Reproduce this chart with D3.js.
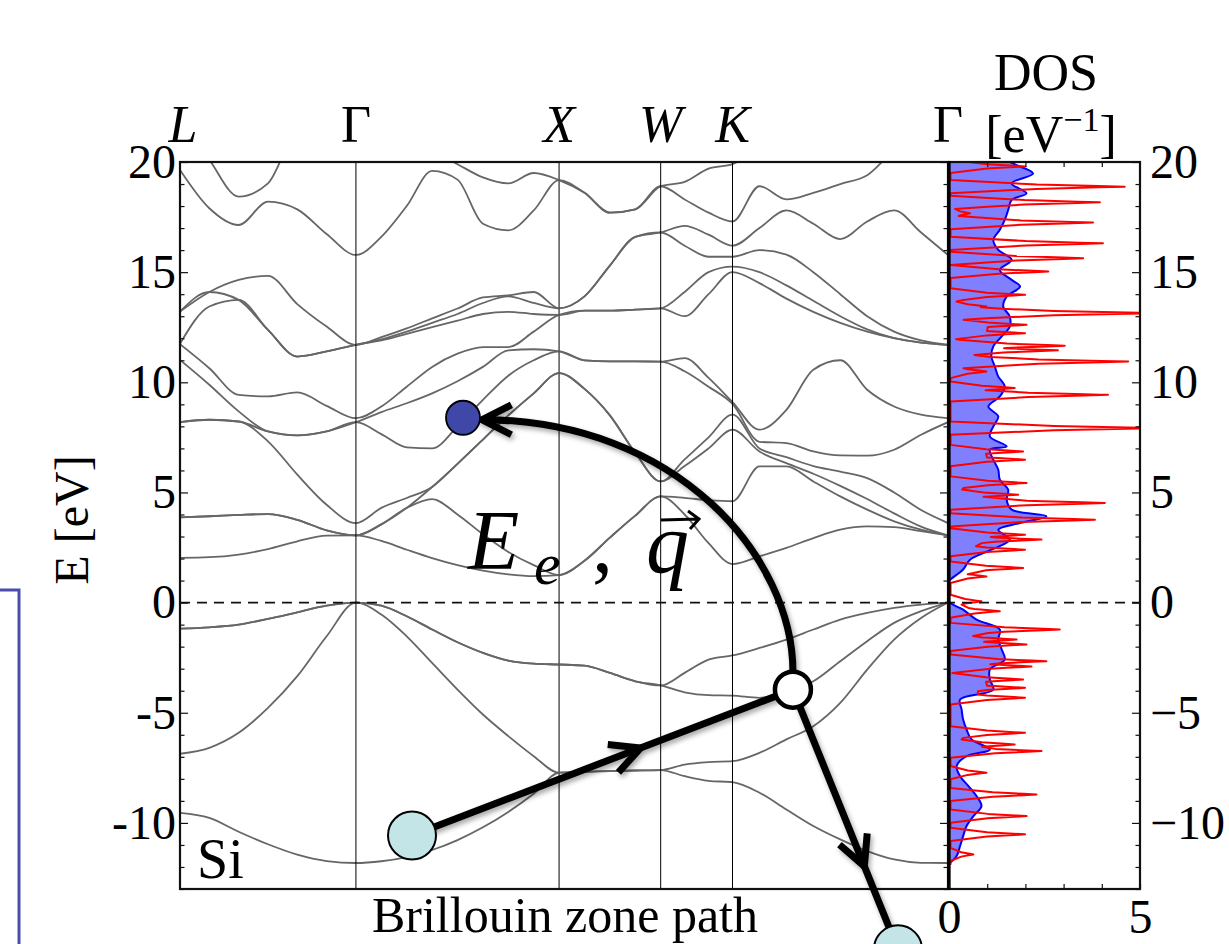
<!DOCTYPE html>
<html>
<head>
<meta charset="UTF-8">
<title>Si band structure and DOS</title>
<script src="https://cdnjs.cloudflare.com/ajax/libs/d3/7.8.5/d3.min.js"></script>
<style>
  body { margin: 0; background: #fff; }
  svg text { font-family: "Liberation Serif", "Times New Roman", serif; }
</style>
</head>
<body>
<div id="chart"></div>
<script>
// ---- path through the Brillouin zone (units of 2pi/a) ----
var kLabels = ["L", "Γ", "X", "W", "K", "Γ"];
var kNodes = [0, 0.8660, 1.8660, 2.3660, 2.7196, 3.7803];

// band energies (eV) sampled evenly along each segment, one row per line
var bandsLG = [
  [-9.54, -9.77, -10.40, -10.97, -11.44, -11.73, -11.82],
  [-6.86, -6.59, -5.91, -4.78, -3.34, -1.53, 0.00],
  [-1.18, -1.12, -1.00, -0.74, -0.44, -0.14, 0.00],
  [-1.18, -1.12, -1.00, -0.74, -0.44, -0.14, 0.00],
  [2.03, 2.06, 2.18, 2.43, 2.78, 3.04, 3.05],
  [3.87, 3.92, 3.98, 4.02, 3.76, 3.28, 3.05],
  [3.87, 3.92, 3.98, 4.02, 3.76, 3.28, 3.05],
  [11.02, 9.89, 8.68, 7.32, 5.81, 4.44, 3.61],
  [8.19, 8.30, 8.22, 7.77, 7.59, 7.77, 8.19],
  [8.19, 8.30, 8.22, 7.77, 7.59, 7.77, 8.19],
  [11.75, 10.64, 9.43, 9.36, 9.54, 8.93, 8.37],
  [13.21, 14.10, 13.74, 12.38, 11.17, 11.40, 11.70],
  [13.21, 14.10, 13.74, 12.38, 11.17, 11.40, 11.70],
  [11.73, 13.44, 14.65, 14.83, 13.55, 12.53, 11.70],
  [19.64, 17.90, 17.14, 18.20, 17.85, 16.73, 15.78],
  [22.00, 20.10, 18.43, 19.03, 21.50, 22.00, 22.00]
];
var bandsGX = [
  [-11.82, -11.74, -11.55, -11.23, -10.78, -10.20, -9.50, -8.68, -7.72],
  [0.00, -0.54, -1.53, -2.74, -3.95, -5.08, -6.06, -6.97, -7.72],
  [0.00, -0.14, -0.62, -1.22, -1.80, -2.28, -2.63, -2.77, -2.81],
  [0.00, -0.14, -0.62, -1.22, -1.80, -2.28, -2.63, -2.77, -2.81],
  [3.05, 2.80, 2.40, 2.02, 1.70, 1.45, 1.28, 1.20, 1.25],
  [3.61, 4.30, 4.75, 4.70, 4.00, 3.10, 2.30, 1.70, 1.25],
  [3.05, 3.55, 4.30, 5.25, 6.30, 7.40, 8.50, 9.50, 10.42],
  [3.05, 3.55, 4.30, 5.25, 6.30, 7.40, 8.50, 9.50, 10.42],
  [8.19, 7.65, 7.05, 7.00, 8.00, 9.20, 10.30, 11.00, 11.40],
  [8.19, 8.90, 9.80, 10.70, 11.30, 11.60, 11.60, 11.50, 11.40],
  [8.37, 8.65, 9.05, 9.50, 10.05, 10.70, 11.45, 12.30, 13.06],
  [11.70, 11.90, 12.20, 12.50, 12.80, 13.10, 13.20, 13.10, 13.06],
  [11.70, 12.05, 12.45, 12.90, 13.35, 13.85, 13.90, 13.60, 13.36],
  [11.70, 11.95, 12.30, 12.70, 13.10, 13.60, 13.95, 14.10, 13.36],
  [15.78, 16.60, 18.00, 19.60, 19.20, 17.20, 16.90, 17.80, 19.18],
  [22.00, 22.00, 21.00, 20.50, 19.90, 19.30, 19.03, 19.50, 19.18]
];
var bandsXW = [
  [-7.72, -7.68, -7.65, -7.62, -7.60],
  [-7.72, -7.68, -7.65, -7.62, -7.60],
  [-2.81, -2.86, -3.19, -3.57, -3.76],
  [-2.81, -2.86, -3.19, -3.57, -3.76],
  [1.25, 1.90, 2.95, 3.95, 4.82],
  [1.25, 1.90, 2.95, 3.95, 4.82],
  [10.42, 9.70, 8.50, 6.80, 5.50],
  [10.42, 9.70, 8.50, 6.80, 5.50],
  [11.40, 11.00, 10.95, 10.95, 10.94],
  [11.40, 11.00, 10.95, 10.95, 10.94],
  [13.06, 13.90, 15.30, 16.60, 16.80],
  [13.06, 13.90, 15.30, 16.60, 16.80],
  [13.36, 13.25, 13.25, 13.30, 13.36],
  [13.36, 13.25, 13.25, 13.30, 13.36],
  [19.18, 18.60, 17.70, 17.85, 18.90],
  [19.18, 18.60, 17.70, 17.85, 18.90]
];
var bandsWK = [
  [-7.60, -7.88, -8.09, -8.15],
  [-7.60, -7.35, -7.24, -7.20],
  [-3.76, -4.07, -4.20, -4.22],
  [-3.76, -3.19, -2.59, -2.40],
  [4.82, 4.00, 2.70, 1.75],
  [4.82, 4.75, 4.65, 4.60],
  [5.50, 6.20, 7.00, 7.85],
  [5.50, 6.50, 7.50, 8.53],
  [10.94, 11.10, 10.20, 9.10],
  [10.94, 10.50, 9.80, 9.02],
  [13.36, 13.00, 14.00, 15.00],
  [13.36, 14.10, 15.00, 15.70],
  [16.80, 17.10, 16.70, 16.20],
  [16.80, 16.20, 15.70, 15.25],
  [18.90, 19.10, 19.70, 19.90],
  [18.90, 18.30, 17.70, 17.30]
];
var bandsKG = [
  [-8.15, -8.63, -9.39, -10.14, -10.75, -11.28, -11.66, -11.81, -11.82],
  [-7.20, -6.82, -6.21, -5.61, -4.55, -3.04, -1.68, -0.70, 0.00],
  [-4.22, -4.32, -4.02, -3.57, -2.66, -1.75, -0.92, -0.39, 0.00],
  [-2.40, -2.06, -1.68, -1.22, -0.77, -0.47, -0.24, -0.09, 0.00],
  [1.75, 2.10, 2.48, 2.93, 3.31, 3.46, 3.43, 3.24, 3.05],
  [4.60, 6.18, 8.75, 10.57, 11.00, 9.66, 8.90, 8.53, 8.37],
  [7.85, 6.86, 6.18, 5.50, 4.82, 4.22, 3.69, 3.31, 3.05],
  [8.53, 7.00, 6.33, 5.85, 5.30, 4.70, 4.05, 3.45, 3.05],
  [9.10, 7.85, 7.24, 6.86, 6.68, 6.67, 6.94, 7.62, 8.19],
  [9.02, 7.30, 6.60, 6.20, 5.95, 5.65, 5.00, 4.20, 3.61],
  [15.00, 14.50, 13.80, 13.20, 12.70, 12.30, 12.00, 11.80, 11.70],
  [15.70, 16.00, 15.80, 15.00, 14.00, 13.00, 12.30, 11.90, 11.70],
  [16.20, 17.00, 17.80, 17.20, 16.50, 17.30, 17.80, 16.80, 15.78],
  [15.25, 15.00, 14.40, 13.70, 13.00, 12.40, 12.00, 11.80, 11.70],
  [19.90, 20.60, 21.00, 21.20, 21.40, 21.60, 21.80, 22.00, 22.00],
  [17.30, 18.90, 18.30, 18.60, 19.00, 19.40, 20.50, 21.00, 21.50]
];

// ---- density of states (eV^-1) ----
var dosE = [-11.85, -11.81, -11.50, -11.05, -10.60, -10.14, -9.69, -9.24, -8.78, -8.33,
  -7.88, -7.42, -6.97, -6.67, -6.21, -5.76, -5.31, -4.85, -4.40, -3.95, -3.49, -3.04,
  -2.59, -2.13, -1.68, -1.22, -0.77, -0.32, 0.06, 0.97, 1.04, 1.50, 1.95, 2.40, 2.86,
  3.31, 3.61, 3.92, 4.22, 4.67, 5.12, 5.58, 6.03, 6.49, 6.94, 7.09, 7.54, 8.00, 8.45,
  8.90, 9.36, 9.81, 10.26, 10.72, 11.17, 11.63, 12.08, 12.53, 12.99, 13.44, 13.89,
  14.35, 14.65, 15.10, 15.56, 16.01, 16.46, 16.92, 17.37, 17.82, 18.28, 18.58, 19.03,
  19.48, 19.86, 20.00];
var dosSmooth = [0, 0.03, 0.20, 0.29, 0.37, 0.46, 0.64, 0.85, 0.72, 0.51,
  0.29, 0.20, 0.46, 1.07, 0.59, 0.46, 0.37, 0.33, 0.29, 1.16, 1.07, 1.07,
  1.46, 1.38, 1.29, 1.33, 0.72, 0.37, 0, 0, 0.03, 0.37, 0.55, 1.11, 1.59,
  1.29, 1.86, 2.55, 1.64, 1.51, 1.55, 1.33, 1.29, 1.16, 1.07, 1.51, 1.07, 1.16, 1.29,
  1.03, 1.33, 1.46, 1.29, 1.20, 1.11, 1.16, 1.38, 1.59, 1.59, 1.42, 1.51,
  1.86, 1.64, 1.33, 1.64, 1.29, 1.16, 1.33, 1.46, 1.55, 1.64, 2.03, 1.64,
  2.20, 1.77, 1.60];
// sharp DOS: peak positions (eV) and heights (eV^-1)
var peakE = [-11.43, -10.52, -9.69, -8.71, -7.72, -6.74, -6.44, -5.91, -4.32, -3.87,
  -3.49, -2.90, -2.66, -1.90, -1.68, -1.22, -0.39, 0.06, 1.19, 1.57, 2.40, 2.86,
  3.08, 3.76, 4.52, 4.90, 5.43, 6.49, 6.86, 7.92, 9.43, 9.74, 10.49, 10.94, 11.45,
  11.66, 12.23, 12.61, 13.14, 13.44, 13.97, 15.03, 15.63, 16.31, 17.25, 17.67,
  18.17, 18.88, 19.80];
var peakH = [0.64, 1.99, 2.03, 2.29, 0.98, 2.42, 1.72, 1.99, 1.99, 1.99,
  1.94, 2.16, 2.55, 2.03, 1.77, 2.90, 1.33, 0.85, 0.98, 1.94, 1.99, 2.42,
  1.99, 3.82, 4.08, 1.81, 2.03, 1.99, 1.94, 5.50, 4.16, 1.72, 0.98, 4.69, 2.85,
  3.03, 1.99, 2.03, 5.50, 0.98, 1.99, 2.60, 3.51, 4.03, 3.77, 0.55,
  3.95, 4.60, 2.00];

// ---- annotation anchors (k, E) ----
var ptFinal = { k: 1.393, E: 8.39 };
var ptHole = { k: 3.017, E: -3.95 };
var ptStartA = { k: 1.142, E: -10.57 };
var ptStartB = { k: 3.534, E: -15.74 };

// ---- layout ----
var svg = d3.select("#chart").append("svg")
  .attr("width", 1229).attr("height", 944);

var x = d3.scaleLinear().domain([0, kNodes[5]]).range([180, 948]);
var y = d3.scaleLinear().domain([-13, 20]).range([889, 162]);
var xd = d3.scaleLinear().domain([0, 5]).range([949, 1140]);

var defs = svg.append("defs");
defs.append("clipPath").attr("id", "bandClip").append("rect")
  .attr("x", 180).attr("y", 162).attr("width", 768).attr("height", 727);
defs.append("clipPath").attr("id", "dosClip").append("rect")
  .attr("x", 949).attr("y", 162).attr("width", 191).attr("height", 727);
defs.append("filter").attr("id", "shadow")
  .attr("x", "-20%").attr("y", "-20%").attr("width", "140%").attr("height", "140%")
  .append("feDropShadow")
  .attr("dx", 2).attr("dy", 3).attr("stdDeviation", 2.5)
  .attr("flood-color", "#000").attr("flood-opacity", 0.35);

// partial box at the left edge
svg.append("rect")
  .attr("x", -20).attr("y", 590).attr("width", 39).attr("height", 420)
  .attr("fill", "none").attr("stroke", "#4a4fae").attr("stroke-width", 3);

// ---- bands: sort the lines at every sample so each band is continuous ----
var segments = [bandsLG, bandsGX, bandsXW, bandsWK, bandsKG];
var bands = d3.range(16).map(function() { return []; });
segments.forEach(function(seg, s) {
  var n = seg[0].length - 1;
  for (var j = (s === 0 ? 0 : 1); j <= n; j++) {
    var k = kNodes[s] + (kNodes[s + 1] - kNodes[s]) * j / n;
    var vals = seg.map(function(l) { return l[j]; }).sort(d3.ascending);
    vals.forEach(function(E, i) { bands[i].push({ k: k, E: E }); });
  }
});

var bandLine = d3.line()
  .x(function(d) { return x(d.k); })
  .y(function(d) { return y(d.E); })
  .curve(d3.curveMonotoneX);

svg.append("g").attr("clip-path", "url(#bandClip)")
  .selectAll("path").data(bands).enter().append("path")
  .attr("d", bandLine)
  .attr("fill", "none").attr("stroke", "#666").attr("stroke-width", 1.8);

// high-symmetry verticals
svg.append("g").selectAll("line").data(kNodes.slice(1, 5)).enter().append("line")
  .attr("x1", function(d) { return x(d); }).attr("x2", function(d) { return x(d); })
  .attr("y1", 162).attr("y2", 889)
  .attr("stroke", function(d, i) { return i === 1 ? "#555" : "#000"; })
  .attr("stroke-width", function(d, i) { return i === 1 ? 1.5 : 1; });

// ---- DOS panel ----
var dosPts = dosE.map(function(e, i) { return [e, dosSmooth[i]]; });
var gd = svg.append("g").attr("clip-path", "url(#dosClip)");
gd.append("path").datum(dosPts)
  .attr("d", d3.area()
    .y(function(d) { return y(d[0]); })
    .x0(xd(0)).x1(function(d) { return xd(d[1]); })
    .curve(d3.curveCatmullRom))
  .attr("fill", "#8080ff");
gd.append("path").datum(dosPts)
  .attr("d", d3.line()
    .y(function(d) { return y(d[0]); })
    .x(function(d) { return xd(d[1]); })
    .curve(d3.curveCatmullRom))
  .attr("fill", "none").attr("stroke", "#0000ff").attr("stroke-width", 2);

// sharp DOS drawn as narrow spikes at the read peaks
function spike(E) {
  var v = 0.04;
  peakE.forEach(function(p, i) {
    var d = Math.abs(E - p), h = peakH[i], s;
    if (d <= 0.1) s = h - 0.5 * h * d / 0.1;
    else if (d <= 0.3) s = 0.5 * h - (0.5 * h - 0.04) * (d - 0.1) / 0.2;
    else s = 0.04;
    if (s > v) v = s;
  });
  return v;
}
var redEs = [-11.9, 20];
peakE.forEach(function(p) { redEs.push(p - 0.3, p - 0.1, p - 0.03, p, p + 0.03, p + 0.1, p + 0.3); });
redEs = redEs.filter(function(e) { return e >= -11.9 && e <= 20; }).sort(d3.ascending);
gd.append("path").datum(redEs)
  .attr("d", d3.line()
    .y(function(e) { return y(e); })
    .x(function(e) { return xd(spike(e)); }))
  .attr("fill", "none").attr("stroke", "#ff0000").attr("stroke-width", 2)
  .attr("stroke-linejoin", "round");

// ---- zero line ----
svg.append("line")
  .attr("x1", 180).attr("x2", 1140).attr("y1", y(0)).attr("y2", y(0))
  .attr("stroke", "#111").attr("stroke-width", 1.6).attr("stroke-dasharray", "10,7");

// ---- frames and axes ----
svg.append("rect").attr("x", 180).attr("y", 162).attr("width", 768).attr("height", 727)
  .attr("fill", "none").attr("stroke", "#111").attr("stroke-width", 2.2);
svg.append("rect").attr("x", 949).attr("y", 162).attr("width", 191).attr("height", 727)
  .attr("fill", "none").attr("stroke", "#111").attr("stroke-width", 2.2);
svg.append("line").attr("x1", 949).attr("x2", 949).attr("y1", 161).attr("y2", 890)
  .attr("stroke", "#000").attr("stroke-width", 3.2);

var eTicks = d3.range(-13, 21);

function styleAxis(g) {
  g.select(".domain").remove();
  g.attr("font-family", "Liberation Serif").attr("font-size", 48);
  g.selectAll(".tick line").attr("stroke", "#111").attr("stroke-width", 1.2);
  g.selectAll(".tick text").attr("fill", "#000");
}

var gl = svg.append("g").attr("transform", "translate(180,0)")
  .call(d3.axisLeft(y).tickValues(eTicks).tickSize(-4.5).tickPadding(4)
    .tickFormat(function(d) { return d % 5 === 0 ? String(d) : ""; }));
styleAxis(gl);
gl.selectAll(".tick line").filter(function(d) { return d % 5 === 0; }).attr("x2", 8);

var gr = svg.append("g").attr("transform", "translate(948,0)")
  .call(d3.axisRight(y).tickValues(eTicks).tickSize(-4.5).tickFormat(""));
styleAxis(gr);
gr.selectAll(".tick line").filter(function(d) { return d % 5 === 0; }).attr("x2", -8);

var gdr = svg.append("g").attr("transform", "translate(1140,0)")
  .call(d3.axisRight(y).tickValues(eTicks).tickSize(-4.5).tickPadding(10)
    .tickFormat(function(d) { return d % 5 === 0 ? d3.format("d")(d) : ""; }));
styleAxis(gdr);
gdr.selectAll(".tick line").filter(function(d) { return d % 5 === 0; }).attr("x2", -8);

var gdt = svg.append("g").attr("transform", "translate(0,162)")
  .call(d3.axisTop(xd).tickValues([1, 2, 3, 4]).tickSize(-5).tickFormat(""));
styleAxis(gdt);
var gdb = svg.append("g").attr("transform", "translate(0,889)")
  .call(d3.axisBottom(xd).tickValues([0, 1, 2, 3, 4, 5]).tickSize(-5).tickPadding(10)
    .tickFormat(function(d) { return d === 0 || d === 5 ? String(d) : ""; }));
styleAxis(gdb);

// ---- labels ----
svg.append("g").selectAll("text").data(kNodes).enter().append("text")
  .attr("x", function(d, i) { return x(d) + (i === 0 ? 3 : 0); })
  .attr("y", 142)
  .attr("text-anchor", "middle")
  .attr("font-size", 52)
  .attr("font-style", function(d, i) { return kLabels[i] === "Γ" ? "normal" : "italic"; })
  .text(function(d, i) { return kLabels[i]; });

svg.append("text").attr("x", 1046).attr("y", 90).attr("text-anchor", "middle")
  .attr("font-size", 52).text("DOS");
var unit = svg.append("text").attr("x", 1051).attr("y", 152).attr("text-anchor", "middle")
  .attr("font-size", 52);
unit.append("tspan").text("[eV");
unit.append("tspan").attr("font-size", 34).attr("dy", -21).text("−1");
unit.append("tspan").attr("dy", 21).text("]");

svg.append("text").attr("transform", "translate(88,520) rotate(-90)")
  .attr("text-anchor", "middle").attr("font-size", 48).text("E [eV]");
svg.append("text").attr("x", 565).attr("y", 932).attr("text-anchor", "middle")
  .attr("font-size", 50).text("Brillouin zone path");
svg.append("text").attr("x", 197).attr("y", 878).attr("font-size", 56).text("Si");

// ---- scattering annotation ----
var pF = [x(ptFinal.k), y(ptFinal.E)];
var pH = [x(ptHole.k), y(ptHole.E)];
var pA = [x(ptStartA.k), y(ptStartA.E)];
var pB = [x(ptStartB.k), y(ptStartB.E)];
var rHole = 18, rFinal = 17, rStart = 24;

function chevron(tip, dir) {
  var L = 33, a = 27 * Math.PI / 180;
  var bx = -dir[0], by = -dir[1];
  var r1 = [bx * Math.cos(a) - by * Math.sin(a), bx * Math.sin(a) + by * Math.cos(a)];
  var r2 = [bx * Math.cos(-a) - by * Math.sin(-a), bx * Math.sin(-a) + by * Math.cos(-a)];
  return "M" + (tip[0] + L * r1[0]) + "," + (tip[1] + L * r1[1]) +
    "L" + tip[0] + "," + tip[1] +
    "L" + (tip[0] + L * r2[0]) + "," + (tip[1] + L * r2[1]);
}
function unitVec(p, q) {
  var dx = q[0] - p[0], dy = q[1] - p[1], n = Math.sqrt(dx * dx + dy * dy);
  return [dx / n, dy / n];
}

var ga = svg.append("g").attr("filter", "url(#shadow)")
  .attr("fill", "none").attr("stroke", "#000").attr("stroke-width", 7);

// incoming electron A -> hole
var uA = unitVec(pA, pH);
ga.append("line").attr("x1", pA[0]).attr("y1", pA[1]).attr("x2", pH[0]).attr("y2", pH[1]);
ga.append("path").attr("d", chevron([pA[0] + 0.6 * (pH[0] - pA[0]), pA[1] + 0.6 * (pH[1] - pA[1])], uA));

// hole -> electron B
var uB = unitVec(pH, pB);
ga.append("line").attr("x1", pH[0]).attr("y1", pH[1]).attr("x2", pB[0]).attr("y2", pB[1]);
ga.append("path").attr("d", chevron([pH[0] + 0.68 * (pB[0] - pH[0]), pH[1] + 0.68 * (pB[1] - pH[1])], uB));

// curved transfer to final state
var s0 = [pH[0], pH[1] - rHole];
var s1 = [pF[0] + rFinal + 2, pF[1] + 2];
ga.append("path").attr("d",
  "M" + s0[0] + "," + s0[1] +
  "C" + s0[0] + "," + (s0[1] - 0.45 * (s0[1] - s1[1])) + " " +
  (s1[0] + 0.63 * (s0[0] - s1[0])) + "," + s1[1] + " " + s1[0] + "," + s1[1]);
ga.append("path").attr("d", chevron(s1, [-1, 0]));

// circles
svg.append("circle").attr("cx", pA[0]).attr("cy", pA[1]).attr("r", rStart)
  .attr("fill", "#c4e5e8").attr("stroke", "#000").attr("stroke-width", 2);
svg.append("circle").attr("cx", pB[0]).attr("cy", pB[1]).attr("r", rStart)
  .attr("fill", "#c4e5e8").attr("stroke", "#000").attr("stroke-width", 2);
svg.append("circle").attr("cx", pF[0]).attr("cy", pF[1]).attr("r", rFinal)
  .attr("fill", "#3f47a8").attr("stroke", "#000").attr("stroke-width", 1.8);
svg.append("circle").attr("cx", pH[0]).attr("cy", pH[1]).attr("r", rHole)
  .attr("fill", "#fff").attr("stroke", "#000").attr("stroke-width", 4.5);

// E_e , q label
var lab = svg.append("g");
lab.append("text").attr("x", 468).attr("y", 569).attr("font-size", 84)
  .attr("font-style", "italic").text("E");
lab.append("text").attr("x", 534).attr("y", 584).attr("font-size", 60)
  .attr("font-style", "italic").text("e");
lab.append("text").attr("x", 592).attr("y", 572).attr("font-size", 84).text(",");
lab.append("text").attr("x", 646).attr("y", 572).attr("font-size", 86)
  .attr("font-style", "italic").text("q");
lab.append("path").attr("d", "M661,520L698,519M688,511L699,519L690,529")
  .attr("fill", "none").attr("stroke", "#000").attr("stroke-width", 3);
</script>
</body>
</html>
